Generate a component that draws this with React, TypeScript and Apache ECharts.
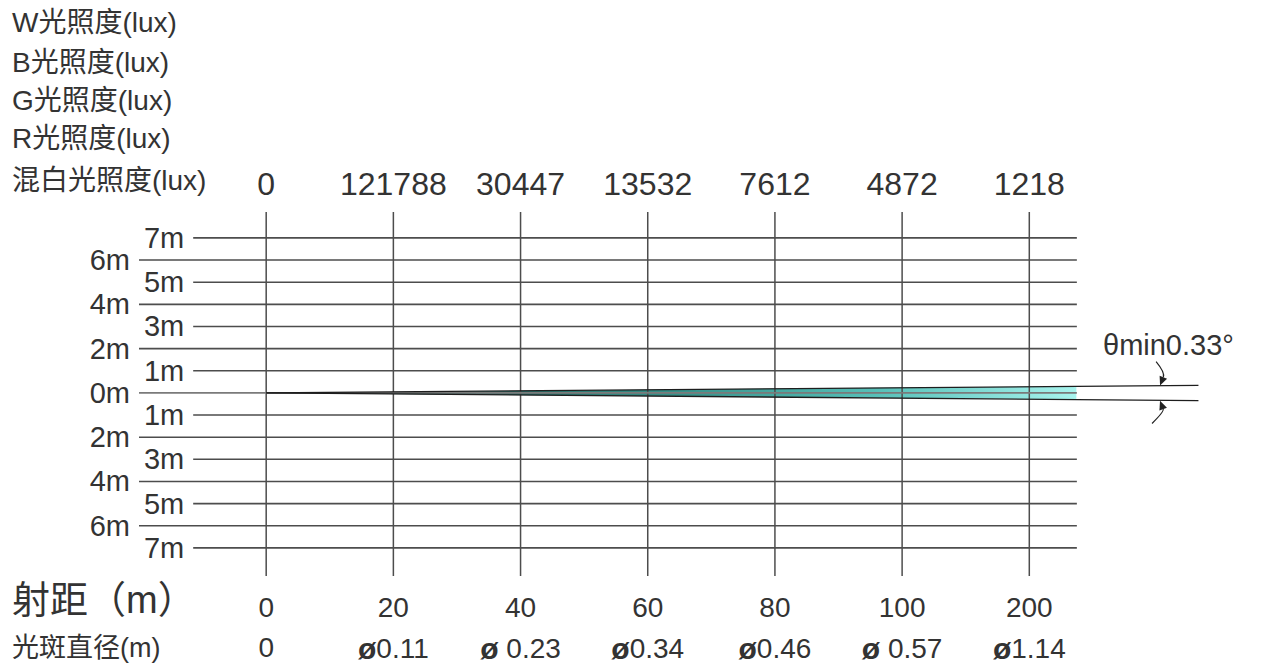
import React, { useEffect, useRef } from "react";
import * as echarts from "echarts";

// ---- data ----
const distances = ["0", "20", "40", "60", "80", "100", "200"];
const luxValues = ["0", "121788", "30447", "13532", "7612", "4872", "1218"];
const spotDiameters = ["0", "ø0.11", "ø 0.23", "ø0.34", "ø0.46", "ø 0.57", "ø1.14"];
const heightLevels = [7, 6, 5, 4, 3, 2, 1, 0, -1, -2, -3, -4, -5, -6, -7];
const headerLabels = ["W光照度(lux)", "B光照度(lux)", "G光照度(lux)", "R光照度(lux)", "混白光照度(lux)"];
const beamUpperEdge = [[0, 0], [7.33, 0.342]];
const beamLowerEdge = [[0, 0], [7.33, -0.347]];
const beamFill = [[0, 0, 0], [6.37, 0.297, -0.302]];
// [startX, startY, ctrlX, ctrlY, tipX, tipY]
const angleArrows = [
  [6.997, 1.41, 7.068, 0.914, 7.028, 0.33],
  [6.965, -1.383, 7.06, -0.842, 7.028, -0.35],
];
const angleLabel = "θmin0.33°";
const rangeTitle = "射距（m）";
const spotTitle = "光斑直径(m)";

const X_MIN = -1;
const X_MAX = 7.35;
const Y_MIN = -8.27;
const Y_MAX = 8.17;
const GRID_END = 6.374;
const EVEN_START = -1;
const ODD_START = -0.574;

const FONT = "'Liberation Sans', 'Noto Sans CJK SC', sans-serif";
const TEXT = "#333333";
const LINE = "#4d4d4d";

export default function App() {
  const ref = useRef<HTMLDivElement>(null);

  useEffect(() => {
    document.body.style.margin = "0";
    const chart = echarts.init(ref.current!, undefined, { renderer: "svg" });

    const series: any[] = [];

    // beam fill
    series.push({
      type: "custom",
      coordinateSystem: "cartesian2d",
      data: [0],
      z: 1,
      silent: true,
      renderItem: (_params: any, api: any) => {
        const upper = beamFill.map((p) => api.coord([p[0], p[1]]));
        const lower = beamFill.map((p) => api.coord([p[0], p[2]])).reverse();
        return {
          type: "polygon",
          shape: { points: upper.concat(lower) },
          style: {
            fill: new echarts.graphic.LinearGradient(0, 0, 1, 0, [
              { offset: 0, color: "#0c3532" },
              { offset: 0.2, color: "#1c5a55" },
              { offset: 0.5, color: "#369089" },
              { offset: 0.75, color: "#56c0b8" },
              { offset: 1, color: "#a8f4ee" },
            ]),
          },
        };
      },
    });

    // vertical lines
    distances.forEach((_d, i) => {
      series.push({
        type: "line",
        data: [[i, Y_MIN], [i, Y_MAX]],
        symbol: "none",
        silent: true,
        z: 2,
        lineStyle: { color: LINE, width: 1.5 },
      });
    });

    // horizontal lines
    heightLevels.forEach((v) => {
      const start = v % 2 === 0 ? EVEN_START : ODD_START;
      series.push({
        type: "line",
        data: [[start, v], [GRID_END, v]],
        symbol: "none",
        silent: true,
        z: 2,
        lineStyle: { color: v === 0 ? "#7a7a7a" : LINE, width: 1.6 },
      });
    });

    // y labels
    series.push({
      type: "scatter",
      symbolSize: 0,
      silent: true,
      z: 3,
      itemStyle: { opacity: 1 },
      data: heightLevels.map((v) => ({
        value: [v % 2 === 0 ? EVEN_START : ODD_START, v],
        name: `${Math.abs(v)}m`,
      })),
      label: {
        show: true,
        position: "left",
        distance: 9,
        formatter: "{b}",
        fontSize: 29,
        fontFamily: FONT,
        color: TEXT,
        opacity: 1,
      },
    });

    // beam edges
    [beamUpperEdge, beamLowerEdge].forEach((edge) => {
      series.push({
        type: "line",
        data: edge,
        symbol: "none",
        silent: true,
        z: 4,
        lineStyle: { color: "#1e1e1e", width: 1.3 },
      });
    });

    // angle arrows
    series.push({
      type: "custom",
      coordinateSystem: "cartesian2d",
      silent: true,
      z: 5,
      data: angleArrows.map((_a, i) => i),
      renderItem: (params: any, api: any) => {
        const a = angleArrows[params.dataIndex];
        const s = api.coord([a[0], a[1]]);
        const c = api.coord([a[2], a[3]]);
        const t = api.coord([a[4], a[5]]);
        const dx = t[0] - c[0];
        const dy = t[1] - c[1];
        const len = Math.sqrt(dx * dx + dy * dy) || 1;
        const ux = dx / len;
        const uy = dy / len;
        const bx = t[0] - ux * 9;
        const by = t[1] - uy * 9;
        return {
          type: "group",
          children: [
            {
              type: "bezierCurve",
              shape: { x1: s[0], y1: s[1], cpx1: c[0], cpy1: c[1], x2: bx, y2: by },
              style: { stroke: "#222", lineWidth: 1.2, fill: null },
            },
            {
              type: "polygon",
              shape: {
                points: [
                  [t[0], t[1]],
                  [bx - uy * 4, by + ux * 4],
                  [bx + uy * 4, by - ux * 4],
                ],
              },
              style: { fill: "#222" },
            },
          ],
        };
      },
    });

    const baseAxis = {
      type: "value",
      min: X_MIN,
      max: X_MAX,
      interval: 1,
      axisLine: { show: false },
      axisTick: { show: false },
      splitLine: { show: false },
    };

    chart.setOption({
      animation: false,
      backgroundColor: "#ffffff",
      grid: { left: 139, right: 65, top: 212, bottom: 86, containLabel: false },
      xAxis: [
        {
          ...baseAxis,
          position: "bottom",
          axisLabel: {
            margin: 17,
            fontSize: 28,
            fontFamily: FONT,
            color: TEXT,
            showMaxLabel: false,
            formatter: (v: number) => distances[Math.round(v)] ?? "",
          },
        },
        {
          ...baseAxis,
          position: "bottom",
          offset: 40,
          axisLabel: {
            margin: 17,
            fontSize: 28,
            fontFamily: FONT,
            color: TEXT,
            showMaxLabel: false,
            formatter: (v: number) => {
              const s = spotDiameters[Math.round(v)];
              if (s === undefined) return "";
              if (s.startsWith("ø")) return `{sym|ø}{num|${s.slice(1)}}`;
              return `{num|${s}}`;
            },
            rich: {
              sym: { fontSize: 30, fontWeight: "bold", fontFamily: FONT, color: TEXT },
              num: { fontSize: 28, fontFamily: FONT, color: TEXT },
            },
          },
        },
        {
          ...baseAxis,
          position: "top",
          axisLabel: {
            margin: 12,
            fontSize: 32,
            fontFamily: FONT,
            color: TEXT,
            showMaxLabel: false,
            formatter: (v: number) => luxValues[Math.round(v)] ?? "",
          },
        },
      ],
      yAxis: { type: "value", min: Y_MIN, max: Y_MAX, show: false },
      graphic: [
        ...headerLabels.map((t, i) => ({
          type: "text",
          x: 12,
          y: [22, 62, 100, 138, 180][i],
          style: { text: t, font: `28px ${FONT}`, fill: TEXT, verticalAlign: "middle" },
        })),
        {
          type: "text",
          x: 12,
          y: 600,
          style: { text: rangeTitle, font: `38px ${FONT}`, fill: TEXT, verticalAlign: "middle" },
        },
        {
          type: "text",
          x: 12,
          y: 648,
          style: { text: spotTitle, font: `27px ${FONT}`, fill: TEXT, verticalAlign: "middle" },
        },
        {
          type: "text",
          x: 1103,
          y: 345,
          style: { text: angleLabel, font: `29px ${FONT}`, fill: TEXT, verticalAlign: "middle" },
        },
      ],
      series,
    });

    return () => chart.dispose();
  }, []);

  return <div ref={ref} style={{ width: 1266, height: 663 }} />;
}
